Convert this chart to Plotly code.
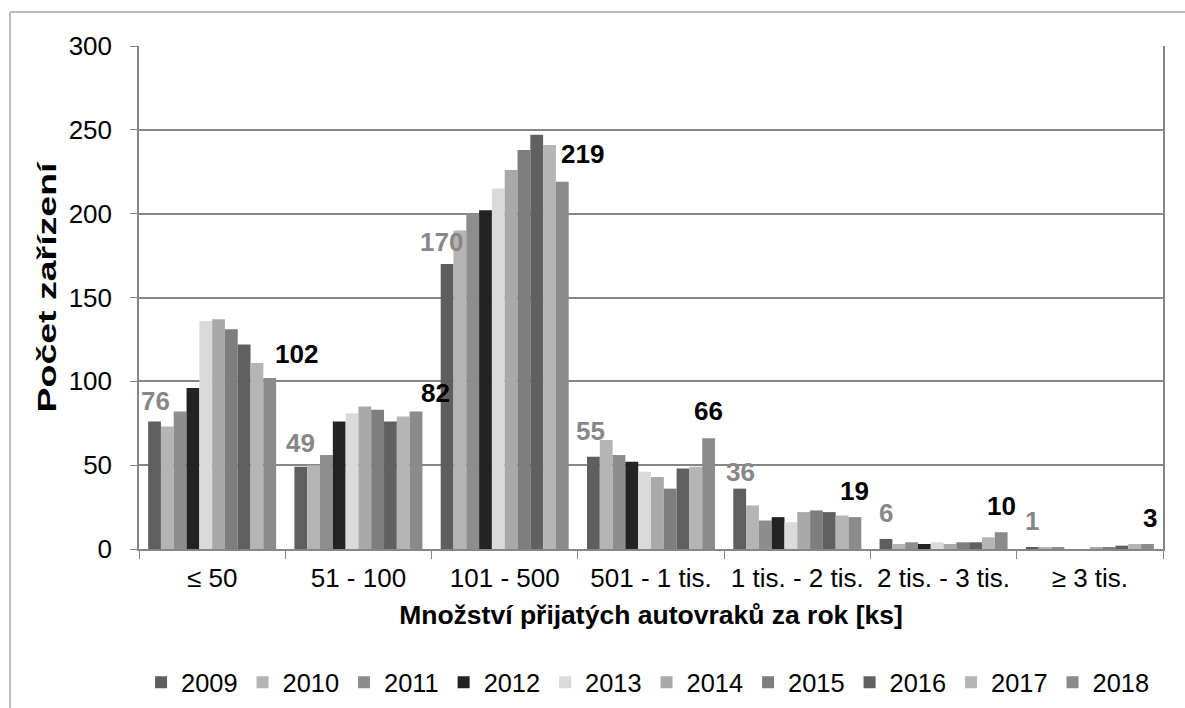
import plotly.graph_objects as go

categories = ["≤ 50", "51 - 100", "101 - 500", "501 - 1 tis.", "1 tis. - 2 tis.", "2 tis. - 3 tis.", "≥ 3 tis."]
years = ["2009", "2010", "2011", "2012", "2013", "2014", "2015", "2016", "2017", "2018"]

v2009 = [76, 49, 170, 55, 36, 6, 1]
v2010 = [73, 50, 190, 65, 26, 3, 1]
v2011 = [82, 56, 200, 56, 17, 4, 1]
v2012 = [96, 76, 202, 52, 19, 3, 0]
v2013 = [136, 81, 215, 46, 16, 4, 0]
v2014 = [137, 85, 226, 43, 22, 3, 1]
v2015 = [131, 83, 238, 36, 23, 4, 1]
v2016 = [122, 76, 247, 48, 22, 4, 2]
v2017 = [111, 79, 241, 49, 20, 7, 3]
v2018 = [102, 82, 219, 66, 19, 10, 3]

series = [v2009, v2010, v2011, v2012, v2013, v2014, v2015, v2016, v2017, v2018]
colors = ["#5e5e5e", "#b4b4b4", "#8d8d8d", "#232323", "#dadada",
          "#a9a9a9", "#7e7e7e", "#606060", "#b5b5b5", "#8b8b8b"]

# label offsets (pixels) for first/last series labels
first_xshift = [1, 0, -6, -3, 1, 0, 0]
first_yshift = [4, 7, 5, 9, 0, 9, 9]
last_xshift = [27, 19, 20, 0, 0, 0, 3]
last_yshift = [7, 2, 11, 10, 9, 9, 9]

FONT = "Liberation Sans, Arial, sans-serif"

fig = go.Figure()
for yr, vals, col in zip(years, series, colors):
    fig.add_trace(go.Bar(name=yr, x=categories, y=vals, marker=dict(color=col, line=dict(width=0))))

W, H = 1185, 708
ml, mr, mt, mb = 139, 22, 46, 159
plot_w = W - ml - mr
bargap = 0.125
cat_w = plot_w / len(categories)
bar_w = cat_w * (1 - bargap) / len(years)
off_first = -4.5 * bar_w
off_last = 4.5 * bar_w

annotations = []
for i, c in enumerate(categories):
    annotations.append(dict(x=c, y=v2009[i], text="<b>%d</b>" % v2009[i], showarrow=False,
                            xref="x", yref="y", xanchor="center", yanchor="bottom",
                            xshift=off_first + first_xshift[i], yshift=first_yshift[i],
                            font=dict(family=FONT, size=26, color="#878787")))
    annotations.append(dict(x=c, y=v2018[i], text="<b>%d</b>" % v2018[i], showarrow=False,
                            xref="x", yref="y", xanchor="center", yanchor="bottom",
                            xshift=off_last + last_xshift[i], yshift=last_yshift[i],
                            font=dict(family=FONT, size=26, color="#000000")))

ph = H - mt - mb
shapes = [
    # outer chart border (top and left)
    dict(type="line", xref="paper", yref="paper", x0=(10 - ml) / plot_w, x1=(W + 5 - ml) / plot_w,
         y0=1 + (mt - 12) / ph, y1=1 + (mt - 12) / ph, line=dict(color="#a6a6a6", width=1.5)),
    dict(type="line", xref="paper", yref="paper", x0=(10 - ml) / plot_w, x1=(10 - ml) / plot_w,
         y0=1 + (mt - 12) / ph, y1=-(mb + 5) / ph, line=dict(color="#a6a6a6", width=1.5)),
]

fig.update_layout(
    width=W, height=H,
    margin=dict(l=ml, r=mr, t=mt, b=mb, autoexpand=False),
    paper_bgcolor="white", plot_bgcolor="white",
    barmode="group", bargap=bargap, bargroupgap=0,
    font=dict(family=FONT, size=26, color="#000000"),
    showlegend=True,
    legend=dict(orientation="h", x=0.002, xanchor="left", y=-0.266, yanchor="middle",
                font=dict(family=FONT, size=25.4, color="#000000"), itemwidth=30,
                traceorder="normal", tracegroupgap=0),
    annotations=annotations,
    shapes=shapes,
    xaxis=dict(
        type="category", tickson="boundaries", ticks="outside", ticklen=8, tickcolor="#868686",
        showline=True, linecolor="#868686", linewidth=1.5, showgrid=False,
        tickfont=dict(family=FONT, size=26, color="#000000"), ticklabelstandoff=5,
        title=dict(text="<b>Množství přijatých autovraků za rok [ks]</b>",
                   font=dict(family=FONT, size=26.5, color="#000000"), standoff=13),
        automargin=False,
    ),
    yaxis=dict(
        range=[0, 300], dtick=50, tick0=0, ticks="outside", ticklen=7, tickcolor="#868686",
        showline=True, linecolor="#868686", linewidth=1.5, mirror=True,
        showgrid=True, gridcolor="#868686", gridwidth=1.5, zeroline=False,
        tickfont=dict(family=FONT, size=26, color="#000000"), ticklabelstandoff=13,
        title=dict(text="<b>Počet zařízení</b>", font=dict(family=FONT, size=26, color="#000000"),
                   standoff=5),
        automargin=False,
    ),
)

post = (
    "document.body.style.margin='0';document.body.style.overflow='hidden';"
    "var t=document.querySelector('.ytitle');"
    "if(t){t.setAttribute('textLength','250');t.setAttribute('lengthAdjust','spacingAndGlyphs');"
    "var tr=t.getAttribute('transform')||'';t.setAttribute('transform','translate(0,-10) '+tr);}"
)
fig.write_html("out.html", config={"displayModeBar": False}, post_script=post)
